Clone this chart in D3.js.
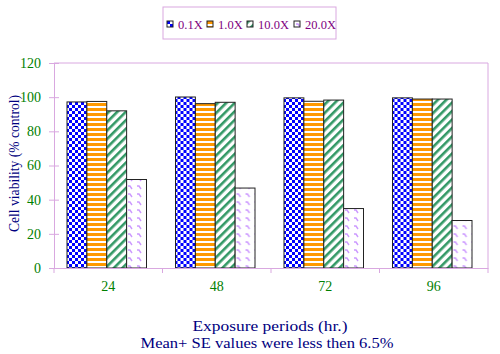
<!DOCTYPE html>
<html>
<head>
<meta charset="utf-8">
<script src="https://cdn.jsdelivr.net/npm/d3@7"></script>
<style>
  body { margin: 0; background: #fff; }
  text { font-family: "Liberation Serif", "DejaVu Serif", serif; }
</style>
</head>
<body>
<div class="chart"></div>
<script>
// chart data
var periods = ["24", "48", "72", "96"];
var doses = ["0.1X", "1.0X", "10.0X", "20.0X"];
var dose01 = [97.2, 100.1, 99.6, 99.6];
var dose10 = [97.5, 96.2, 97.6, 98.9];
var dose100 = [92.0, 97.0, 98.3, 98.9];
var dose200 = [51.8, 46.8, 34.8, 27.8];
var yTicks = [0, 20, 40, 60, 80, 100, 120];

var seriesValues = [dose01, dose10, dose100, dose200];

// set up the chart
var svgWidth = 500;
var svgHeight = 354;
var margin = { top: 63, right: 12, bottom: 86, left: 54 };
var width = svgWidth - margin.left - margin.right;
var height = svgHeight - margin.top - margin.bottom;

var svg = d3.select(".chart")
  .append("svg")
  .attr("width", svgWidth)
  .attr("height", svgHeight);

// patterns for the bars
var defs = svg.append("defs");

var pCheck = defs.append("pattern").attr("id", "pat0")
  .attr("patternUnits", "userSpaceOnUse").attr("width", 6).attr("height", 6);
pCheck.append("rect").attr("width", 6).attr("height", 6).attr("fill", "#fff");
pCheck.append("rect").attr("width", 3).attr("height", 3).attr("fill", "#0000ff");
pCheck.append("rect").attr("x", 3).attr("y", 3).attr("width", 3).attr("height", 3).attr("fill", "#0000ff");

var pStripe = defs.append("pattern").attr("id", "pat1")
  .attr("patternUnits", "userSpaceOnUse").attr("width", 5).attr("height", 5);
pStripe.append("rect").attr("width", 5).attr("height", 5).attr("fill", "#fff");
pStripe.append("rect").attr("width", 5).attr("height", 3).attr("fill", "#ff9900");

var pDiag = defs.append("pattern").attr("id", "pat2")
  .attr("patternUnits", "userSpaceOnUse").attr("width", 6).attr("height", 6)
  .attr("patternTransform", "rotate(45)");
pDiag.append("rect").attr("width", 6).attr("height", 6).attr("fill", "#fff");
pDiag.append("rect").attr("width", 2.6).attr("height", 6).attr("fill", "#339966");

var pDots = defs.append("pattern").attr("id", "pat3")
  .attr("patternUnits", "userSpaceOnUse").attr("width", 9).attr("height", 8);
pDots.append("rect").attr("width", 9).attr("height", 8).attr("fill", "#fff");
pDots.append("path").attr("d", "M2,3 L4,3 L6,6").attr("fill", "none")
  .attr("stroke", "#cc99ff").attr("stroke-width", 1.4);

var chartGroup = svg.append("g")
  .attr("transform", `translate(${margin.left}, ${margin.top})`);

// scales
var xScale = d3.scaleBand().domain(periods).range([0, width]);
var xInner = d3.scaleBand().domain(doses)
  .range([13, xScale.bandwidth() - 16]);
var yScale = d3.scaleLinear().domain([0, 120]).range([height, 0]);

// plot frame (top and right)
chartGroup.append("path")
  .attr("d", `M0,0 H${width} V${height}`)
  .attr("fill", "none")
  .attr("stroke", "#d9a8e0");

// bars
var groups = chartGroup.selectAll(".grp")
  .data(periods)
  .enter()
  .append("g")
  .attr("transform", d => `translate(${xScale(d)},0)`);

groups.selectAll("rect")
  .data((p, i) => doses.map((dz, k) => ({ dose: dz, k: k, value: seriesValues[k][i] })))
  .enter()
  .append("rect")
  .attr("x", d => xInner(d.dose))
  .attr("y", d => yScale(d.value))
  .attr("width", xInner.bandwidth())
  .attr("height", d => height - yScale(d.value))
  .attr("fill", d => `url(#pat${d.k})`)
  .attr("stroke", "#222")
  .attr("stroke-width", 1);

// axes
var leftAxis = d3.axisLeft(yScale).tickValues(yTicks).tickSize(5).tickPadding(8);
var bottomAxis = d3.axisBottom(xScale).tickSize(0).tickPadding(13);

var yAxisG = chartGroup.append("g").call(leftAxis);
yAxisG.select(".domain").attr("stroke", "#d9a8e0");
yAxisG.selectAll(".tick line").attr("stroke", "#d9a8e0").attr("x2", 5).attr("x1", -5);
yAxisG.selectAll("text").attr("fill", "#008000").attr("font-size", 14)
  .attr("font-family", "Liberation Serif");

var xAxisG = chartGroup.append("g")
  .attr("transform", `translate(0, ${height})`)
  .call(bottomAxis);
xAxisG.select(".domain").attr("stroke", "#d9a8e0");
xAxisG.selectAll("text").attr("fill", "#008000").attr("font-size", 14)
  .attr("font-family", "Liberation Serif");

// category separators on the x axis
chartGroup.selectAll(".sep")
  .data(periods.concat(["end"]))
  .enter()
  .append("line")
  .attr("x1", (d, i) => i * xScale.step())
  .attr("x2", (d, i) => i * xScale.step())
  .attr("y1", height)
  .attr("y2", height + 5)
  .attr("stroke", "#d9a8e0");

// axis labels
chartGroup.append("text")
  .attr("transform", "rotate(-90)")
  .attr("x", -height / 2 + 2)
  .attr("y", -35)
  .attr("text-anchor", "middle")
  .attr("fill", "#000080")
  .attr("font-size", 15)
  .attr("textLength", 137)
  .attr("lengthAdjust", "spacingAndGlyphs")
  .text("Cell viability (% control)");

chartGroup.append("text")
  .attr("x", 216)
  .attr("y", height + 63)
  .attr("text-anchor", "middle")
  .attr("fill", "#000080")
  .attr("font-size", 14.5)
  .attr("textLength", 155)
  .attr("lengthAdjust", "spacingAndGlyphs")
  .text("Exposure periods (hr.)");

chartGroup.append("text")
  .attr("x", 213)
  .attr("y", height + 80)
  .attr("text-anchor", "middle")
  .attr("fill", "#000080")
  .attr("font-size", 14.5)
  .attr("textLength", 253)
  .attr("lengthAdjust", "spacingAndGlyphs")
  .text("Mean+ SE values were less then 6.5%");

// legend
var legend = svg.append("g").attr("transform", "translate(163, 7)");
legend.append("rect")
  .attr("width", 173).attr("height", 32)
  .attr("fill", "#fff").attr("stroke", "#d9a8e0");

var legendX = [4, 44, 84, 131];
var items = legend.selectAll(".item")
  .data(doses)
  .enter()
  .append("g")
  .attr("transform", (d, i) => `translate(${legendX[i]}, 14)`);

items.append("rect")
  .attr("width", 6).attr("height", 6)
  .attr("fill", (d, i) => `url(#pat${i})`)
  .attr("stroke", "#222");

items.append("text")
  .attr("x", 11)
  .attr("y", 7.5)
  .attr("fill", "#800080")
  .attr("font-size", 12.5)
  .text(d => d);
</script>
</body>
</html>
